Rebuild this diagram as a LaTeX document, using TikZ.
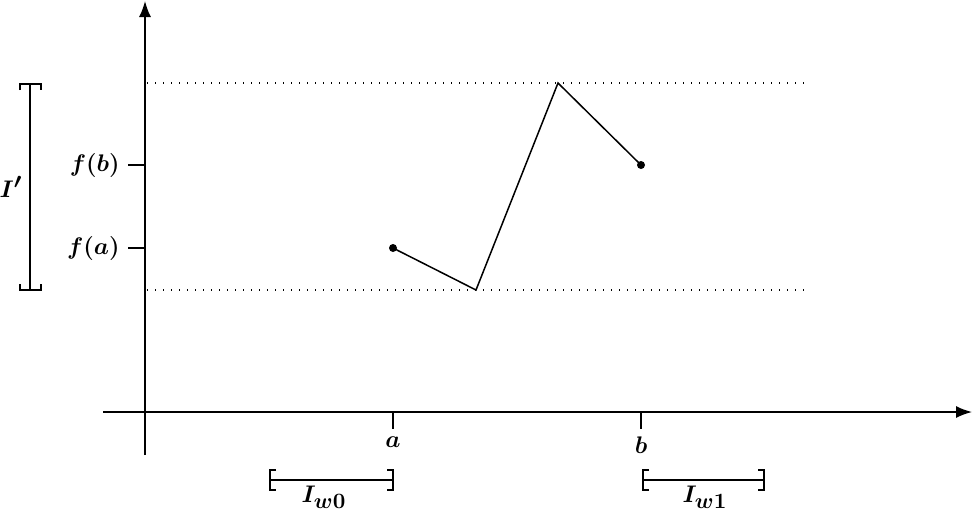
\documentclass[tikz,border=0pt]{standalone}
\usepackage{amsmath,bm}
\usetikzlibrary{arrows.meta}
\DeclareMathSizes{13}{13}{11}{8}
\begin{document}
\begin{tikzpicture}[x=0.5pt,y=-0.5pt,
  font=\fontsize{13}{15}\selectfont,
  ln/.style={line width=0.75pt},
  ax/.style={line width=0.75pt,-{Latex[length=8pt,width=6pt]}},
  dotline/.style={line width=0.7pt,dash pattern=on 0.7pt off 3.3pt},
  dotpt/.style={circle,fill=black,inner sep=0pt,minimum size=4pt},
  lbl/.style={inner sep=1pt}]
\useasboundingbox (0,0) rectangle (973,511);
% axes
\coordinate (yb) at (145,455);
\coordinate (yt) at (145,1);
\coordinate (xl) at (103,412);
\coordinate (xr) at (972,412);
\draw[ax] (yb) -- (yt);
\draw[ax] (xl) -- (xr);
% dotted levels
\coordinate (d1a) at (147,83);
\coordinate (d1b) at (805,83);
\coordinate (d2a) at (147,290);
\coordinate (d2b) at (805,290);
\draw[dotline] (d1a) -- (d1b);
\draw[dotline] (d2a) -- (d2b);
% y ticks
\coordinate (tb0) at (128,165);
\coordinate (tb1) at (145,165);
\coordinate (ta0) at (128,248);
\coordinate (ta1) at (145,248);
\draw[ln] (tb0) -- (tb1);
\draw[ln] (ta0) -- (ta1);
\node[lbl,anchor=east] (fb) at ([xshift=-3pt]tb0) {$\bm{f(b)}$};
\node[lbl,anchor=east] (fa) at ([xshift=-3pt]ta0) {$\bm{f(a)}$};
% x ticks
\coordinate (xa0) at (393,412);
\coordinate (xa1) at (393,429);
\coordinate (xb0) at (641,412);
\coordinate (xb1) at (641,429);
\draw[ln] (xa0) -- (xa1);
\draw[ln] (xb0) -- (xb1);
\node[lbl] (la) at (393,442) {$\bm{a}$};
\node[lbl] (lb) at (641,445) {$\bm{b}$};
% function graph
\node[dotpt] (p0) at (393,248) {};
\coordinate (p1) at (476,290);
\coordinate (p2) at (558,83);
\node[dotpt] (p3) at (641,165) {};
\draw[ln,line join=miter] (p0.center) -- (p1) -- (p2) -- (p3.center);
% I' bracket
\draw[ln] (20,90) -- (20,84) -- (41,84) -- (41,90);
\draw[ln] (20,284) -- (20,290) -- (41,290) -- (41,284);
\coordinate (it) at (30,84);
\coordinate (ib) at (30,290);
\draw[ln] (it) -- (ib);
\node[lbl] (Ip) at (11,187) {$\bm{I'}$};
% Iw0 bracket
\draw[ln] (276,470) -- (270,470) -- (270,490) -- (276,490);
\draw[ln] (387,470) -- (393,470) -- (393,490) -- (387,490);
\coordinate (w0a) at (270,480);
\coordinate (w0b) at (393,480);
\draw[ln] (w0a) -- (w0b);
\node[lbl] (Iw0) at (324,497) {$\bm{I_{w0}}$};
% Iw1 bracket
\draw[ln] (649,470) -- (643,470) -- (643,490) -- (649,490);
\draw[ln] (758,470) -- (764,470) -- (764,490) -- (758,490);
\coordinate (w1a) at (643,480);
\coordinate (w1b) at (764,480);
\draw[ln] (w1a) -- (w1b);
\node[lbl] (Iw1) at (705,497) {$\bm{I_{w1}}$};
\end{tikzpicture}
\end{document}
